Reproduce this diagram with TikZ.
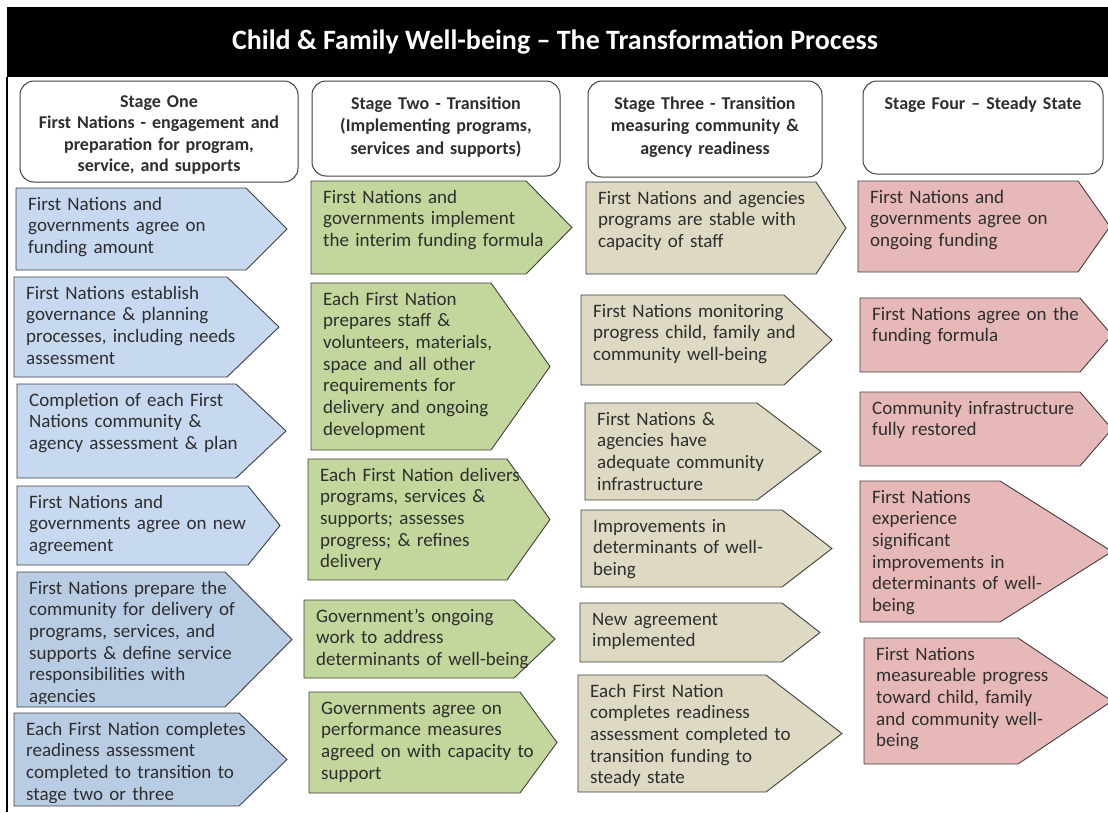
\documentclass[tikz,border=0pt]{standalone}
\usepackage{fontspec}
\setmainfont{Carlito}

\begin{document}
\begin{tikzpicture}[x=1pt, y=-1pt,
  stagebox/.style={draw=edgegrey, line width=1pt, fill=white, rounded corners=14pt},
  stagetext/.style={font=\bfseries\fontsize{18}{22.5}\selectfont, text=textgrey, align=center, inner sep=0pt, anchor=base},
  arrowbox/.style={draw=edgegrey, line width=0.9pt},
  boxtext/.style={font=\fontsize{19}{21.7}\selectfont, text=textgrey, align=left, inner sep=0pt, text width=300pt, anchor=base west}]

%─────────────
% Colours
%─────────────
\definecolor{stepblue}{HTML}{C6D9F1}      % Stage one
\definecolor{stepbluedark}{HTML}{B8CCE4}  % Stage one, last two
\definecolor{stepgreen}{HTML}{C3D69B}     % Stage two
\definecolor{steptan}{HTML}{DDD9C3}       % Stage three
\definecolor{steppink}{HTML}{E6B9B8}      % Stage four
\definecolor{edgegrey}{HTML}{3F3F3F}
\definecolor{textgrey}{HTML}{2E2E2E}

\useasboundingbox (0,0) rectangle (1108,812);

%───────────────────────────────────────────────────────
% Pentagon step: #1 name, #2 fill, #3 left, #4 top,
% #5 bottom, #6 body right, #7 tip, #8 text
% (text is cut 4pt above the bottom edge)
%───────────────────────────────────────────────────────
\newcommand{\drawStepArrow}[8]{%
  \filldraw[arrowbox, fill=#2]
    (#3,#4) -- (#6,#4) -- (#7,{(#4+#5)/2}) -- (#6,#5) -- (#3,#5) -- cycle;
  \begin{scope}
    \clip (#3,#4) rectangle (#7,{#5-4});
    \node[boxtext] (#1) at ({#3+12},{#4+22}) {#8};
  \end{scope}
}

%─────────────
% Title bar
%─────────────
\fill[black] (7,7) rectangle (1112,77);
\draw[line width=1.2pt] (7,77) -- (7,812);
\node[font=\bfseries\fontsize{28}{32}\selectfont, text=white] (title) at (555,42)
  {Child \& Family Well-being – The Transformation Process};

%─────────────
% Stage headers
%─────────────
\draw[stagebox] (20,81) rectangle (298,182);
\node[stagetext, text width=270pt, font=\bfseries\fontsize{18}{21.5}\selectfont] (s1) at (159,107)
  {Stage One\\First Nations - engagement and\\preparation for program,\\service, and supports};
\draw[stagebox] (312,81) rectangle (560,176);
\node[stagetext, text width=240pt] (s2) at (436,109)
  {Stage Two - Transition\\(Implementing programs,\\services and supports)};
\draw[stagebox] (588,81) rectangle (822,177);
\node[stagetext, text width=228pt] (s3) at (705,109)
  {Stage Three - Transition\\measuring community \&\\agency readiness};
\draw[stagebox] (863,81) rectangle (1103,174);
\node[stagetext, text width=234pt] (s4) at (983,109)
  {Stage Four – Steady State};

%─────────────
% Stage One
%─────────────
\drawStepArrow{b1}{stepblue}{16}{188}{270}{246}{287}
  {First Nations and\\governments agree on\\funding amount}
\drawStepArrow{b2}{stepblue}{14}{277}{377}{227}{279}
  {First Nations establish\\governance \& planning\\processes, including needs\\assessment}
\drawStepArrow{b3}{stepblue}{17}{384}{478}{236}{286}
  {Completion of each First\\Nations community \&\\agency assessment \& plan}
\drawStepArrow{b4}{stepblue}{17}{486}{565}{248}{280}
  {First Nations and\\governments agree on new\\agreement}
\drawStepArrow{b5}{stepbluedark}{17}{572}{707}{225}{292}
  {First Nations prepare the\\community for delivery of\\programs, services, and\\supports \& define service\\responsibilities with\\agencies}
\drawStepArrow{b6}{stepbluedark}{14}{713}{806}{239}{287}
  {Each First Nation completes\\readiness assessment\\completed to transition to\\stage two or three}

%─────────────
% Stage Two
%─────────────
\drawStepArrow{g1}{stepgreen}{311}{181}{274}{526}{572}
  {First Nations and\\governments implement\\the interim funding formula}
\drawStepArrow{g2}{stepgreen}{311}{283}{450}{491}{550}
  {Each First Nation\\prepares staff \&\\volunteers, materials,\\space and all other\\requirements for\\delivery and ongoing\\development}
\drawStepArrow{g3}{stepgreen}{308}{459}{580}{507}{550}
  {Each First Nation delivers\\programs, services \&\\supports; assesses\\progress; \& refines\\delivery}
\drawStepArrow{g4}{stepgreen}{304}{600}{678}{514}{555}
  {Government’s ongoing\\work to address\\determinants of well-being}
\drawStepArrow{g5}{stepgreen}{309}{692}{793}{520}{557}
  {Governments agree on\\performance measures\\agreed on with capacity to\\support}

%─────────────
% Stage Three
%─────────────
\drawStepArrow{t1}{steptan}{586}{182}{274}{816}{846}
  {First Nations and agencies\\programs are stable with\\capacity of staff}
\drawStepArrow{t2}{steptan}{581}{295}{385}{784}{832}
  {First Nations monitoring\\progress child, family and\\community well-being}
\drawStepArrow{t3}{steptan}{585}{403}{500}{757}{821}
  {First Nations \&\\agencies have\\adequate community\\infrastructure}
\drawStepArrow{t4}{steptan}{581}{510}{587}{782}{832}
  {Improvements in\\determinants of well-\\being}
\drawStepArrow{t5}{steptan}{580}{603}{662}{782}{820}
  {New agreement\\implemented}
\drawStepArrow{t6}{steptan}{578}{675}{792}{766}{842}
  {Each First Nation\\completes readiness\\assessment completed to\\transition funding to\\steady state}

%─────────────
% Stage Four
%─────────────
\drawStepArrow{p1}{steppink}{858}{181}{272}{1078}{1110}
  {First Nations and\\governments agree on\\ongoing funding}
\drawStepArrow{p2}{steppink}{860}{298}{372}{1080}{1112}
  {First Nations agree on the\\funding formula}
\drawStepArrow{p3}{steppink}{860}{392}{466}{1080}{1112}
  {Community infrastructure\\fully restored}
\drawStepArrow{p4}{steppink}{860}{481}{622}{1000}{1112}
  {First Nations\\experience\\significant\\improvements in\\determinants of well-\\being}
\drawStepArrow{p5}{steppink}{864}{638}{764}{1018}{1112}
  {First Nations\\measureable progress\\toward child, family\\and community well-\\being}

\end{tikzpicture}
\end{document}
